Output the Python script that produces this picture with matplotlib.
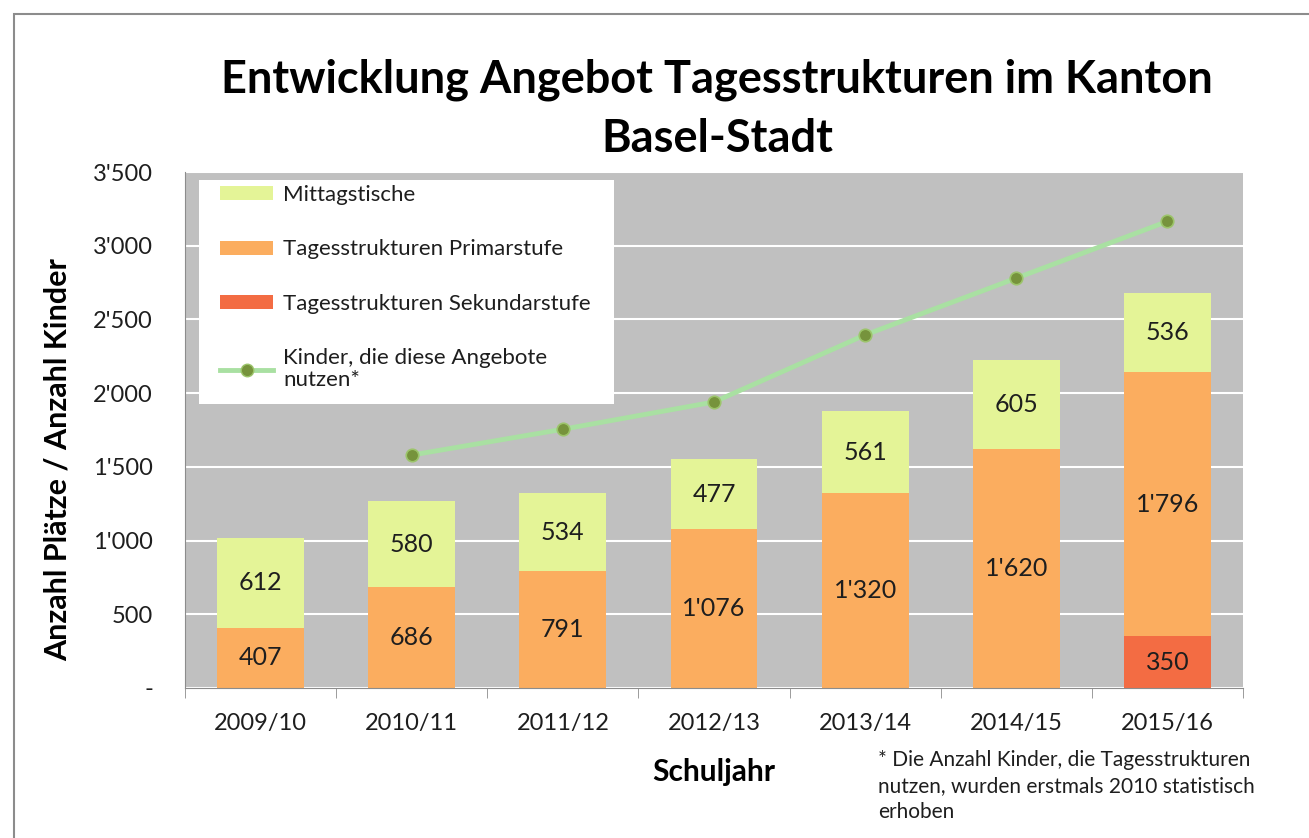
"""Tagesstrukturen Basel-Stadt: stacked bars with overlay line."""

import matplotlib

matplotlib.use("Agg")
import matplotlib.pyplot as plt  # noqa: E402
import numpy as np  # noqa: E402
from matplotlib.lines import Line2D  # noqa: E402
from matplotlib.patches import Patch, Rectangle  # noqa: E402
from matplotlib.ticker import FuncFormatter, MultipleLocator  # noqa: E402

years = ["2009/10", "2010/11", "2011/12", "2012/13", "2013/14", "2014/15", "2015/16"]
sekundar = [0, 0, 0, 0, 0, 0, 350]
primar = [407, 686, 791, 1076, 1320, 1620, 1796]
mittag = [612, 580, 534, 477, 561, 605, 536]
kinder = [np.nan, 1580, 1755, 1940, 2395, 2780, 3165]

C_MITTAG = "#e4f497"
C_PRIMAR = "#fbad5f"
C_SEK = "#f36c43"
C_LINE = "#a9e0a2"
C_MARK = "#76933c"
C_TEXT = "#1e1e1e"

plt.rcParams["font.family"] = ["Lato", "DejaVu Sans"]


def fmt_thousands(v, _pos=None):
    if v == 0:
        return "-"
    return f"{int(round(v)):,}".replace(",", "'")


fig = plt.figure(figsize=(13.09, 8.38), dpi=100)
# outer chart frame (runs off the right and bottom edge of the picture)
fig.add_artist(Rectangle((14 / 1309, -0.1), 1.2, 1 - 14 / 838 + 0.1,
                         transform=fig.transFigure, fill=False,
                         edgecolor="#8c8c8c", lw=1.5))

ax = fig.add_axes([185 / 1309, 1 - 688 / 838, 1058 / 1309, 516 / 838])
ax.set_facecolor("#c0c0c0")

x = np.arange(len(years))
w = 0.575
sek = np.array(sekundar)
pri = np.array(primar)
mit = np.array(mittag)

ax.bar(x, sek, w, color=C_SEK, zorder=2)
ax.bar(x, pri, w, bottom=sek, color=C_PRIMAR, zorder=2)
ax.bar(x, mit, w, bottom=sek + pri, color=C_MITTAG, zorder=2)

for i in range(len(years)):
    if sek[i] > 0:
        ax.text(x[i], sek[i] / 2, fmt_thousands(sek[i]), ha="center",
                va="center", fontsize=18, color=C_TEXT, zorder=4)
    ax.text(x[i], sek[i] + pri[i] / 2, fmt_thousands(pri[i]), ha="center",
            va="center", fontsize=18, color=C_TEXT, zorder=4)
    ax.text(x[i], sek[i] + pri[i] + mit[i] / 2, fmt_thousands(mit[i]),
            ha="center", va="center", fontsize=18, color=C_TEXT, zorder=4)

ax.plot(x, kinder, color=C_LINE, lw=3.5, marker="o", markersize=9,
        markerfacecolor=C_MARK, markeredgecolor="#9cc46a",
        markeredgewidth=1.2, zorder=3)

ax.set_xlim(-0.5, len(years) - 0.5)
ax.set_ylim(0, 3500)
ax.yaxis.set_major_locator(MultipleLocator(500))
ax.yaxis.set_major_formatter(FuncFormatter(fmt_thousands))
ax.grid(axis="y", color="white", lw=1.5, zorder=1)
ax.set_axisbelow(True)

ax.set_xticks(x)
ax.set_xticklabels(years)
ax.set_xticks(np.arange(-0.5, len(years)), minor=True)
ax.tick_params(axis="x", which="major", length=0, pad=18, labelsize=17,
               labelcolor=C_TEXT)
ax.tick_params(axis="x", which="minor", length=7, color="#8c8c8c")
ax.tick_params(axis="y", length=0, pad=23, labelsize=17, labelcolor=C_TEXT)
for side in ("top", "right"):
    ax.spines[side].set_visible(False)
ax.spines["left"].set_color("#8c8c8c")
ax.spines["bottom"].set_color("#8c8c8c")

ax.set_ylabel("Anzahl Plätze / Anzahl Kinder", fontsize=22,
              fontweight="bold")
ax.yaxis.set_label_coords(-0.107, 0.442)
ax.set_xlabel("Schuljahr", fontsize=21.5, fontweight="bold", labelpad=17)

fig.text(717 / 1309, 1 - 109 / 838,
         "Entwicklung Angebot Tagesstrukturen im Kanton\nBasel-Stadt",
         ha="center", va="center", fontsize=32.5, fontweight="bold",
         linespacing=1.5)

fig.text(878 / 1309, 1 - 750 / 838,
         "* Die Anzahl Kinder, die Tagesstrukturen\n"
         "nutzen, wurden erstmals 2010 statistisch\nerhoben",
         ha="left", va="top", fontsize=15, color=C_TEXT, linespacing=1.36)

# white legend box as in the original, legend itself drawn without frame
ax.add_patch(Rectangle((14 / 1058, (688 - 404) / 516), 415 / 1058,
                       224 / 516, transform=ax.transAxes, facecolor="white",
                       edgecolor="none", zorder=5))

handles = [
    Patch(facecolor=C_MITTAG, label="Mittagstische"),
    Patch(facecolor=C_PRIMAR, label="Tagesstrukturen Primarstufe"),
    Patch(facecolor=C_SEK, label="Tagesstrukturen Sekundarstufe"),
    Line2D([], [], color=C_LINE, lw=3.5, marker="o", markersize=9,
           markerfacecolor=C_MARK, markeredgecolor="#9cc46a",
           label="Kinder, die diese Angebote\nnutzen*"),
]
leg = ax.legend(handles=handles, loc="upper left",
                bbox_to_anchor=(35 / 1058, (688 - 185) / 516), fontsize=16,
                labelspacing=1.55, handlelength=2.4, handleheight=0.6,
                handletextpad=0.45, borderpad=0, borderaxespad=0,
                frameon=False)
for t in leg.get_texts():
    t.set_color(C_TEXT)
    t.set_linespacing(1.1)
leg.set_zorder(6)

fig.savefig("out.png", dpi=100)
